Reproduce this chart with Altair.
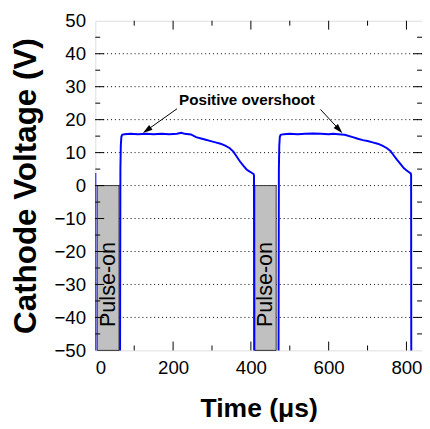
import altair as alt
import pandas as pd

# ---- data ----
time_us = [0, 0.3, 63.5, 64.5, 65.5, 67, 69, 75, 90, 110, 130, 150, 170, 190, 210, 221, 230,
           246, 259, 272, 284, 297, 309, 322, 334, 345, 355, 363, 372, 381, 389, 396, 402, 407,
           408, 408.5,
           471, 472, 473, 474.5, 476.5, 485, 500, 520, 540, 560, 580, 600, 612, 625,
           641, 662, 675, 688, 700, 713, 726, 738, 749, 759, 767, 776, 785, 793, 799, 805, 811,
           812, 812.5, 840]
voltage_v = [3.8, -60, -60, 5, 12, 14.8, 15.4, 15.6, 15.7, 15.6, 15.7, 15.6, 15.7, 15.6, 15.7, 16.0, 15.7,
             15.5, 14.7, 14.3, 13.9, 13.5, 13.1, 12.7, 12.1, 11.4, 10.3, 8.9, 7.3, 6.0, 4.9, 4.3, 3.9, 3.5,
             3.0, -60,
             -60, 5, 12, 14.8, 15.4, 15.6, 15.7, 15.6, 15.7, 15.8, 15.7, 15.6, 15.7, 15.6,
             15.4, 14.7, 14.2, 13.8, 13.5, 13.1, 12.7, 12.1, 11.4, 10.5, 9.2, 7.8, 6.5, 5.3, 4.7, 4.2, 3.7,
             3.2, -60, -60]

pulse_start = [5, 410]
pulse_end = [61, 465]
pulse_top = [0, 0]
pulse_bottom = [-50, -50]
pulse_label = ["Pulse-on", "Pulse-on"]
pulse_label_t = [33, 437]
pulse_label_v = [-30, -30]

note_text = ["Positive overshoot"]
note_t = [390]
note_v = [25.9]

arrow_t0 = [210, 579]
arrow_v0 = [23.3, 23.1]
arrow_t1 = [132.6, 626.8]
arrow_v1 = [16.8, 17.0]
arrow_angle = [234, 137.5]

x_labels = [0, 200, 400, 600, 800]
x_major = [200, 400, 600, 800]
x_minor = [100, 300, 500, 700]
y_labels = [-50, -40, -30, -20, -10, 0, 10, 20, 30, 40, 50]
y_major = [-40, -30, -20, -10, 0, 10, 20, 30, 40]
y_minor = [-45, -35, -25, -15, -5, 5, 15, 25, 35, 45]

W, H = 333, 336
FONT = "Liberation Sans"

xs = alt.Scale(domain=[0, 840], nice=False, zero=False)
ys = alt.Scale(domain=[-50, 50], nice=False, zero=False)

curve = pd.DataFrame({"t": time_us, "v": voltage_v})
pulses = pd.DataFrame({"t0": pulse_start, "t1": pulse_end, "v0": pulse_top, "v1": pulse_bottom})
plabels = pd.DataFrame({"t": pulse_label_t, "v": pulse_label_v, "txt": pulse_label})
note = pd.DataFrame({"t": note_t, "v": note_v, "txt": note_text})
arrows = pd.DataFrame({"t0": arrow_t0, "v0": arrow_v0, "t1": arrow_t1, "v1": arrow_v1, "ang": arrow_angle})
grid_df = pd.DataFrame({"v": y_major})

xaxis = alt.Axis(
    values=x_labels, title="Time (μs)", ticks=False, domain=False, grid=False,
    labelFontSize=19, labelPadding=9, labelColor="black", labelFont=FONT, labelOverlap=False,
    titleFontSize=27, titleFont=FONT, titleFontWeight="bold", titleColor="black",
    titlePadding=18)
yaxis = alt.Axis(
    values=y_labels, title="Cathode Voltage (V)", ticks=False, domain=False, grid=False,
    labelFontSize=19, labelPadding=10, labelColor="black", labelFont=FONT, labelOverlap=False,
    titleFontSize=32, titleFont=FONT, titleFontWeight="bold", titleColor="black",
    titlePadding=12)

grid = alt.Chart(grid_df).mark_rule(color="black", strokeWidth=1, strokeDash=[1, 3]).encode(
    y=alt.Y("v:Q", scale=ys, axis=yaxis), x=alt.value(0), x2=alt.value(W))

base_x = alt.Chart(curve).mark_point(opacity=0).encode(
    x=alt.X("t:Q", scale=xs, axis=xaxis), y=alt.Y("v:Q", scale=ys, axis=yaxis))

rects = alt.Chart(pulses).mark_rect(fill="#c0c0c0", stroke="#333333", strokeWidth=1).encode(
    x=alt.X("t0:Q", scale=xs, axis=xaxis), x2="t1:Q", y=alt.Y("v0:Q", scale=ys, axis=yaxis), y2="v1:Q")

line = alt.Chart(curve).mark_line(color="#0000ff", strokeWidth=2, clip=True).encode(
    x=alt.X("t:Q", scale=xs, axis=xaxis), y=alt.Y("v:Q", scale=ys, axis=yaxis), order="idx:Q"
).transform_window(idx="row_number()")

ptext = alt.Chart(plabels).mark_text(angle=270, fontSize=22, font=FONT, color="black",
                                      align="center", baseline="middle").encode(
    x=alt.X("t:Q", scale=xs, axis=xaxis), y=alt.Y("v:Q", scale=ys, axis=yaxis), text="txt:N")

ntext = alt.Chart(note).mark_text(fontSize=15.5, font=FONT, fontWeight="bold", color="black",
                                  align="center", baseline="middle").encode(
    x=alt.X("t:Q", scale=xs, axis=xaxis), y=alt.Y("v:Q", scale=ys, axis=yaxis), text="txt:N")

shafts = alt.Chart(arrows).mark_rule(color="black", strokeWidth=1).encode(
    x=alt.X("t0:Q", scale=xs, axis=xaxis), y=alt.Y("v0:Q", scale=ys, axis=yaxis), x2="t1:Q", y2="v1:Q")

heads = alt.Chart(arrows).mark_point(shape="M0,-1L0.6,1L-0.6,1Z", filled=True, color="black",
                                      size=100, opacity=1).encode(
    x=alt.X("t1:Q", scale=xs, axis=xaxis), y=alt.Y("v1:Q", scale=ys, axis=yaxis),
    angle=alt.Angle("ang:Q", scale=None))


def yticks(vals, length, right=False):
    df = pd.DataFrame({"v": vals})
    if right:
        xv, x2v = W - length, W
    else:
        xv, x2v = 0, length
    return alt.Chart(df).mark_rule(color="black", strokeWidth=1).encode(
        y=alt.Y("v:Q", scale=ys, axis=yaxis), x=alt.value(xv), x2=alt.value(x2v))


def xticks(vals, length, top=False):
    df = pd.DataFrame({"t": vals})
    if top:
        yv, y2v = 0, length
    else:
        yv, y2v = H - length, H
    return alt.Chart(df).mark_rule(color="black", strokeWidth=1).encode(
        x=alt.X("t:Q", scale=xs, axis=xaxis), y=alt.value(yv), y2=alt.value(y2v))


ticks = [
    yticks(y_major, 9), yticks(y_minor, 5),
    yticks(y_major, 9, right=True), yticks(y_minor, 5, right=True),
    xticks(x_major, 9), xticks(x_minor, 5),
    xticks(x_major, 9, top=True), xticks(x_minor, 5, top=True),
]

chart = alt.layer(base_x, grid, rects, line, ptext, ntext, shafts, heads, *ticks).properties(
    width=W, height=H,
    autosize=alt.AutoSizeParams(type="none"),
    padding={"left": 89, "top": 9, "right": 0, "bottom": 70},
).configure_view(stroke="black", strokeWidth=1).configure(background="white")

chart.save("out.html", embed_options={"renderer": "svg", "actions": False})
